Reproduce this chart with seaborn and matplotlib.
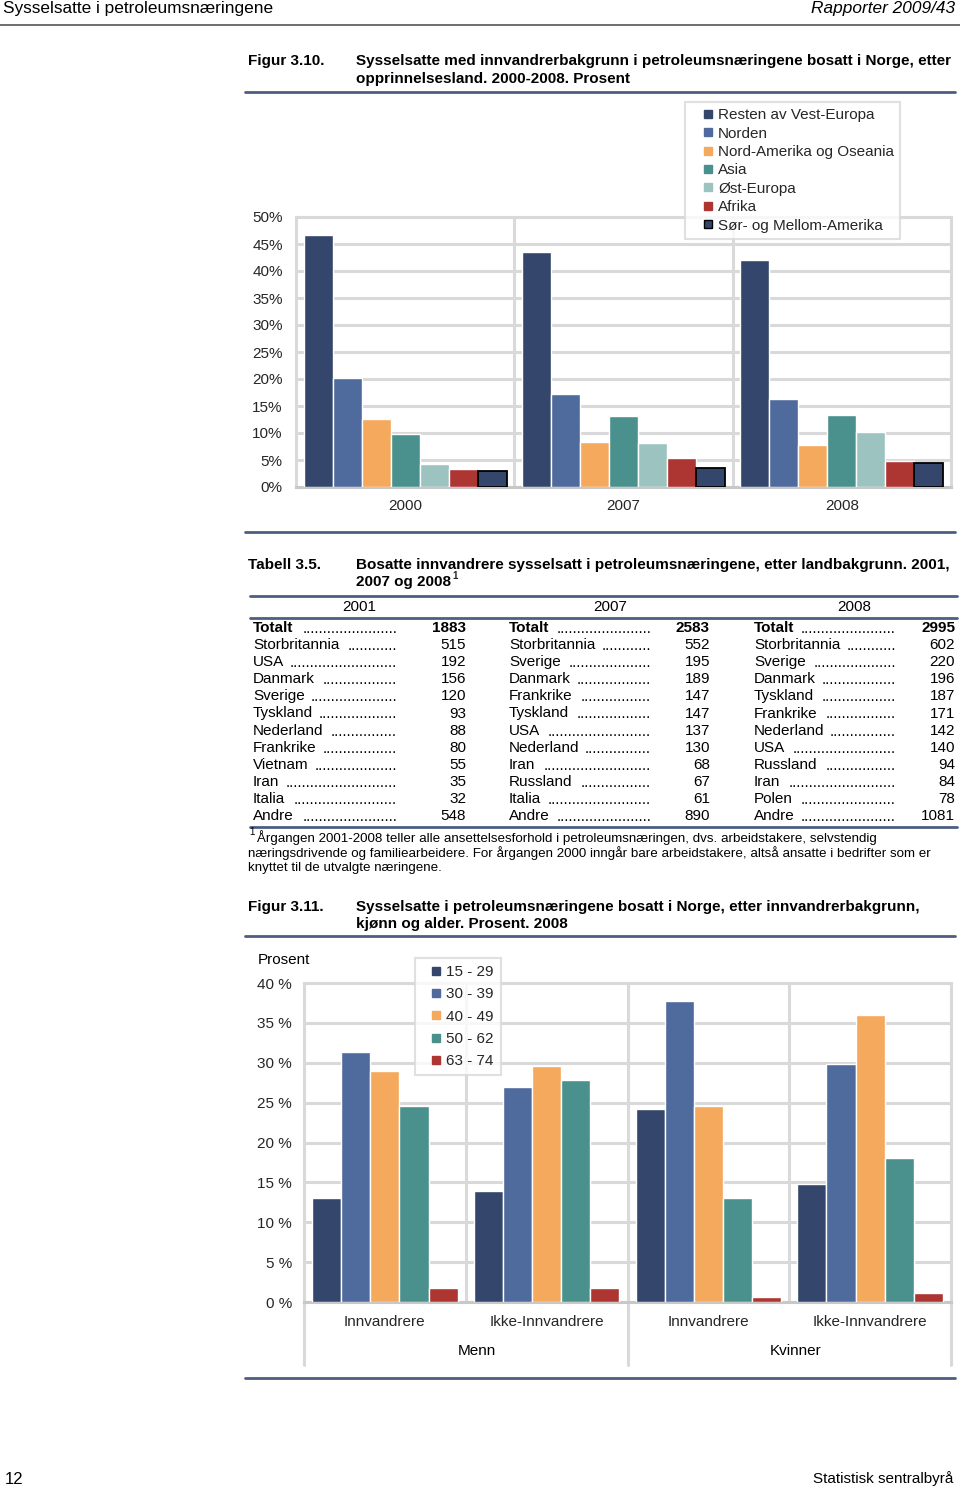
import numpy as np
import pandas as pd
import matplotlib
matplotlib.use("Agg")
import matplotlib.pyplot as plt
import seaborn as sns
from matplotlib.lines import Line2D

# ---------------- data: Figur 3.10 ----------------
years = ["2000", "2007", "2008"]
regions = ["Resten av Vest-Europa", "Norden", "Nord-Amerika og Oseania", "Asia",
           "Øst-Europa", "Afrika", "Sør- og Mellom-Amerika"]
share_2000 = [46.6, 20.1, 12.6, 9.8, 4.2, 3.4, 2.9]
share_2007 = [43.5, 17.2, 8.4, 13.1, 8.2, 5.3, 3.6]
share_2008 = [42.1, 16.3, 7.8, 13.4, 10.1, 4.8, 4.4]
region_colors = ["#34466b", "#4f6a9d", "#f5a95c", "#4a918d", "#9cc3c0", "#ad3532", "#34466b"]

# ---------------- data: Tabell 3.5 ----------------
tab_years = ["2001", "2007", "2008"]
land_2001 = ["Totalt", "Storbritannia", "USA", "Danmark", "Sverige", "Tyskland",
             "Nederland", "Frankrike", "Vietnam", "Iran", "Italia", "Andre"]
antall_2001 = [1883, 515, 192, 156, 120, 93, 88, 80, 55, 35, 32, 548]
land_2007 = ["Totalt", "Storbritannia", "Sverige", "Danmark", "Frankrike", "Tyskland",
             "USA", "Nederland", "Iran", "Russland", "Italia", "Andre"]
antall_2007 = [2583, 552, 195, 189, 147, 147, 137, 130, 68, 67, 61, 890]
land_2008 = ["Totalt", "Storbritannia", "Sverige", "Danmark", "Tyskland", "Frankrike",
             "Nederland", "USA", "Russland", "Iran", "Polen", "Andre"]
antall_2008 = [2995, 602, 220, 196, 187, 171, 142, 140, 94, 84, 78, 1081]

# ---------------- data: Figur 3.11 ----------------
groups = ["Innvandrere", "Ikke-Innvandrere", "Innvandrere", "Ikke-Innvandrere"]
sexes = ["Menn", "Menn", "Kvinner", "Kvinner"]
ages = ["15 - 29", "30 - 39", "40 - 49", "50 - 62", "63 - 74"]
age_15_29 = [13.0, 13.9, 24.2, 14.8]
age_30_39 = [31.3, 26.9, 37.7, 29.8]
age_40_49 = [29.0, 29.6, 24.6, 36.0]
age_50_62 = [24.6, 27.8, 13.0, 18.0]
age_63_74 = [1.8, 1.7, 0.6, 1.1]
age_colors = ["#34466b", "#4f6a9d", "#f5a95c", "#4a918d", "#ad3532"]

# ---------------- page setup ----------------
W, H = 960, 1489
sns.set_theme(style="white")
plt.rcParams['font.family'] = ['Liberation Sans', 'DejaVu Sans']
fig = plt.figure(figsize=(W / 100, H / 100), dpi=100)
fig.patch.set_facecolor("white")

GRID = "#d9d9d9"
RULE = "#4d5e80"
TITLE_FS = 11


def fx(x):
    return x / W


def fy(y):
    return 1 - y / H


def rect(l, t, r, b):
    return [l / W, 1 - b / H, (r - l) / W, (b - t) / H]


def hline(y, x0, x1, color=RULE, lw=2.0):
    fig.add_artist(Line2D([fx(x0), fx(x1)], [fy(y), fy(y)], color=color, lw=lw,
                          transform=fig.transFigure))


def txt(x, y, s, **kw):
    kw.setdefault("va", "center")
    kw.setdefault("fontsize", 11)
    kw.setdefault("color", "black")
    return fig.text(fx(x), fy(y), s, **kw)


renderer = fig.canvas.get_renderer()

# ---------------- page header / footer ----------------
txt(3, 9, "Sysselsatte i petroleumsnæringene", fontsize=12.4)
txt(955, 9, "Rapporter 2009/43", fontsize=12.4, ha="right", style="italic")
hline(25, 0, 960, color="#555555", lw=1.2)
txt(5, 1479, "12", fontsize=12)
txt(953, 1479, "Statistisk sentralbyrå", fontsize=11, ha="right")

# ---------------- Figur 3.10 ----------------
txt(248, 61, "Figur 3.10.", fontweight="bold", fontsize=TITLE_FS)
txt(356, 61, "Sysselsatte med innvandrerbakgrunn i petroleumsnæringene bosatt i Norge, etter",
    fontweight="bold", fontsize=TITLE_FS)
txt(356, 79, "opprinnelsesland. 2000-2008. Prosent", fontweight="bold", fontsize=TITLE_FS)
hline(92, 245, 955)
hline(532, 245, 955)

df1 = pd.DataFrame({
    "year": np.repeat(years, len(regions)),
    "region": regions * len(years),
    "share": share_2000 + share_2007 + share_2008,
})
ax1 = fig.add_axes(rect(296, 217, 951, 487))
sns.barplot(data=df1, x="year", y="share", hue="region", order=years, hue_order=regions,
            palette=region_colors, width=0.93, saturation=1, legend=False, errorbar=None,
            ax=ax1, zorder=3)
for bar in ax1.containers[6]:
    bar.set_edgecolor("black")
    bar.set_linewidth(1.3)
ax1.set_ylim(0, 50)
ax1.set_xlim(-0.5, 2.5)
ax1.set_yticks(range(0, 51, 5))
ax1.set_yticklabels([f"{v}%" for v in range(0, 51, 5)])
ax1.set_axisbelow(True)
ax1.yaxis.grid(True, color=GRID, lw=2.2)
for x in [0.5, 1.5]:
    ax1.axvline(x, color=GRID, lw=2.2, zorder=1)
for sp in ax1.spines.values():
    sp.set_color(GRID)
    sp.set_linewidth(2.2)
ax1.spines["bottom"].set_color("#c8c8c8")
ax1.tick_params(axis="y", length=0, pad=9.5, labelsize=11)
ax1.tick_params(axis="x", length=0, pad=9, labelsize=11)
ax1.set_xlabel("")
ax1.set_ylabel("")

h1 = [Line2D([], [], ls="", marker="s", markersize=6, markerfacecolor=c,
             markeredgecolor=("black" if i == 6 else c), markeredgewidth=1)
      for i, c in enumerate(region_colors)]
leg1 = fig.legend(h1, regions, loc="upper left", bbox_to_anchor=(fx(685), fy(102)),
                  frameon=True, fancybox=False, edgecolor=GRID, fontsize=11,
                  handlelength=2.24, handletextpad=-0.47,
                  labelspacing=0.29, borderpad=0.4, borderaxespad=0)
leg1.get_frame().set_linewidth(1.5)

# ---------------- Tabell 3.5 ----------------
txt(248, 565, "Tabell 3.5.", fontweight="bold", fontsize=TITLE_FS)
txt(356, 565, "Bosatte innvandrere sysselsatt i petroleumsnæringene, etter landbakgrunn. 2001,",
    fontweight="bold", fontsize=TITLE_FS)
t_last = txt(356, 582, "2007 og 2008", fontweight="bold", fontsize=TITLE_FS)
bb = t_last.get_window_extent(renderer=renderer)
fig.text(bb.x1 / W + 1 / W, fy(576), "1", fontsize=7, fontweight="bold", va="center")

hline(596, 250, 957)
hline(618, 250, 957)
hline(827, 250, 957)

col_name_x = [253, 509, 754]
col_dots_x = [397, 651, 896]
col_num_x = [466, 710, 955]
year_x = [359, 610, 854]
tab_names = [land_2001, land_2007, land_2008]
tab_vals = [antall_2001, antall_2007, antall_2008]

dtest = fig.text(0, 0, "." * 20, fontsize=11)
dot_w = dtest.get_window_extent(renderer=renderer).width / 20
dtest.remove()

for c in range(3):
    txt(year_x[c], 607, tab_years[c], ha="center")
    for i, (name, val) in enumerate(zip(tab_names[c], tab_vals[c])):
        y = 628 + i * 17.1
        weight = "bold" if i == 0 else "normal"
        tn = txt(col_name_x[c], y, name, fontweight=weight)
        nb = tn.get_window_extent(renderer=renderer)
        start = nb.x1 + 5
        n = int((col_dots_x[c] - start) // dot_w)
        if n > 0:
            txt(col_dots_x[c], y + 1, "." * n, ha="right")
        txt(col_num_x[c], y, f"{val}", ha="right", fontweight=weight)

txt(249, 832, "1", fontsize=7)
fn = ["Årgangen 2001-2008 teller alle ansettelsesforhold i petroleumsnæringen, dvs. arbeidstakere, selvstendig",
      "næringsdrivende og familiearbeidere. For årgangen 2000 inngår bare arbeidstakere, altså ansatte i bedrifter som er",
      "knyttet til de utvalgte næringene."]
txt(257, 838, fn[0], fontsize=9.65)
txt(248, 853, fn[1], fontsize=9.65)
txt(248, 868, fn[2], fontsize=9.65)

# ---------------- Figur 3.11 ----------------
txt(248, 907, "Figur 3.11.", fontweight="bold", fontsize=TITLE_FS)
txt(356, 907, "Sysselsatte i petroleumsnæringene bosatt i Norge, etter innvandrerbakgrunn,",
    fontweight="bold", fontsize=TITLE_FS)
txt(356, 924, "kjønn og alder. Prosent. 2008", fontweight="bold", fontsize=TITLE_FS)
hline(936, 245, 955)
hline(1378, 245, 955)

keys = [f"{s} {g}" for s, g in zip(sexes, groups)]
df2 = pd.DataFrame({
    "key": keys * len(ages),
    "age": np.repeat(ages, len(keys)),
    "pct": age_15_29 + age_30_39 + age_40_49 + age_50_62 + age_63_74,
})
ax2 = fig.add_axes(rect(304, 983, 951, 1302))
sns.barplot(data=df2, x="key", y="pct", hue="age", order=keys, hue_order=ages,
            palette=age_colors, width=0.9, saturation=1, legend=False, errorbar=None,
            ax=ax2, zorder=3)
ax2.set_ylim(0, 40)
ax2.set_xlim(-0.5, 3.5)
ax2.set_yticks(range(0, 41, 5))
ax2.set_yticklabels([f"{v} %" for v in range(0, 41, 5)])
ax2.set_xticks(range(len(groups)))
ax2.set_xticklabels(groups)
ax2.set_axisbelow(True)
ax2.yaxis.grid(True, color=GRID, lw=2.2)
for sp in ax2.spines.values():
    sp.set_color(GRID)
    sp.set_linewidth(2.2)
ax2.spines["bottom"].set_color("#c8c8c8")
ylow = -(1365 - 1302) / 8.0
for x in [0.5, 2.5]:
    ax2.plot([x, x], [0, 40], color=GRID, lw=2.2, zorder=1)
for x in [-0.5, 1.5, 3.5]:
    ax2.plot([x, x], [ylow, 40], color=GRID, lw=2.2, zorder=1, clip_on=False)
ax2.tick_params(axis="y", length=0, pad=8.5, labelsize=11)
ax2.tick_params(axis="x", length=0, pad=9, labelsize=11)
ax2.set_xlabel("")
ax2.set_ylabel("")
txt(258, 960, "Prosent")
txt(477, 1351, "Menn", ha="center")
txt(796, 1351, "Kvinner", ha="center")

h2 = [Line2D([], [], ls="", marker="s", markersize=6, markerfacecolor=c,
             markeredgecolor=c) for c in age_colors]
leg2 = fig.legend(h2, ages, loc="upper left", bbox_to_anchor=(fx(415), fy(958)),
                  frameon=True, fancybox=False, edgecolor=GRID, fontsize=11,
                  handlelength=1.88, handletextpad=-0.29,
                  labelspacing=0.55, borderpad=0.45, borderaxespad=0)
leg2.get_frame().set_linewidth(1.5)

fig.savefig("out.png", dpi=100, facecolor="white")
